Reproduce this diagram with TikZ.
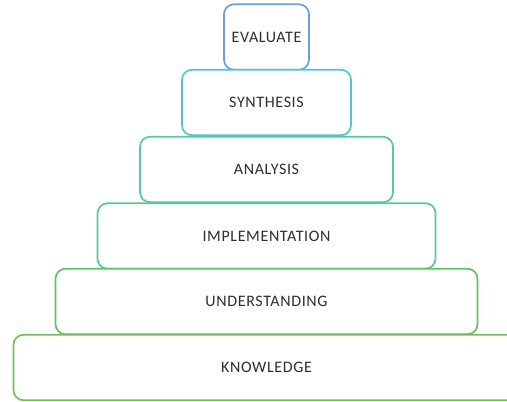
\documentclass[tikz,border=0pt]{standalone}
\usepackage{fontspec}
\setmainfont{Carlito}[LetterSpace=4]
\definecolor{evalblue}{HTML}{6A9FD8}
\definecolor{synthcyan}{HTML}{55C3D6}
\definecolor{anateal}{HTML}{50CAA8}
\definecolor{implmint}{HTML}{58C98A}
\definecolor{undgreen}{HTML}{5EC462}
\definecolor{knowgreen}{HTML}{72BF58}
\tikzset{level/.style={draw, line width=1.7pt, rounded corners=10pt, fill=white,
  text=black!82, font=\fontsize{16}{18}\selectfont, minimum height=65.5pt,
  inner sep=0pt}}
\begin{document}
\begin{tikzpicture}[x=1pt, y=-1pt]
\useasboundingbox (0,0) rectangle (507,402);

\node[level, draw=evalblue, minimum width=85pt] (evaluate) at (266.5,37) {EVALUATE};
\node[level, draw=synthcyan, minimum width=169pt] (synthesis) at (266.5,102.5) {SYNTHESIS};
\node[level, draw=anateal, minimum width=253pt] (analysis) at (266.5,169.5) {ANALYSIS};
\node[level, draw=implmint, minimum width=338pt] (implementation) at (266.5,236) {IMPLEMENTATION};
\node[level, draw=undgreen, minimum width=422pt] (understanding) at (266.5,301.5) {UNDERSTANDING};
\node[level, draw=knowgreen, minimum width=506pt] (knowledge) at (266.5,367.5) {KNOWLEDGE};
\end{tikzpicture}
\end{document}
